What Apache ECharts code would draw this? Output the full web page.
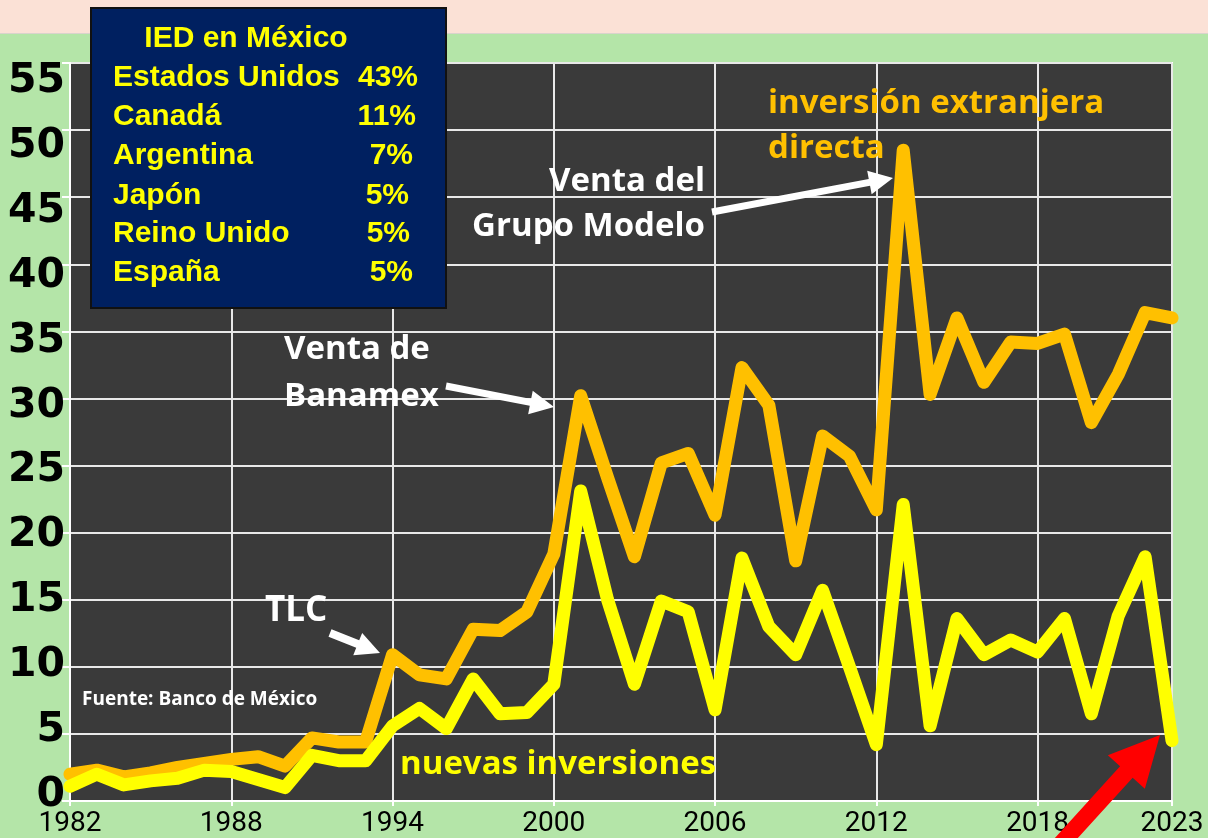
<!DOCTYPE html>
<html>
<head>
<meta charset="utf-8">
<script src="https://cdn.jsdelivr.net/npm/echarts@6/dist/echarts.min.js"></script>
<style>
html,body{margin:0;padding:0;background:#b4e5a8;}
#c{width:1208px;height:838px;}
</style>
</head>
<body>
<div id="c"></div>
<script>
// ---- data ----
var years = [];
for (var y = 1982; y <= 2023; y++) years.push(String(y));
var xTickLabels = ['1982','1988','1994','2000','2006','2012','2018','2023'];
var yTickLabels = [0,5,10,15,20,25,30,35,40,45,50,55];
var iedTotal = [2.0,2.3,1.8,2.1,2.5,2.8,3.1,3.3,2.6,4.7,
                4.4,4.4,10.9,9.4,9.1,12.8,12.7,14.1,18.4,30.2,
                24.1,18.2,25.2,25.9,21.3,32.3,29.5,17.9,27.2,25.7,
                21.7,48.5,30.3,36.0,31.2,34.2,34.1,34.8,28.2,31.8,
                36.4,36.0];
var nuevas = [1.1,2.0,1.2,1.5,1.7,2.3,2.2,1.6,1.0,3.4,
              3.0,3.0,5.6,6.9,5.4,9.1,6.5,6.6,8.7,23.1,
              15.0,8.7,14.9,14.1,6.8,18.1,13.0,10.9,15.7,10.0,
              4.2,22.1,5.6,13.6,10.9,12.0,11.1,13.6,6.5,13.8,
              18.2,4.5];
var boxTitle = 'IED en México';
var countries = ['Estados Unidos','Canadá','Argentina','Japón','Reino Unido','España'];
var shares = ['43%','11%','7%','5%','5%','5%'];

// ---- helpers ----
function arrow(x1, y1, x2, y2, sw, hl, hw, color) {
  var dx = x2 - x1, dy = y2 - y1, L = Math.sqrt(dx*dx + dy*dy);
  var ux = dx / L, uy = dy / L, px = -uy, py = ux;
  var bx = x2 - ux * hl, by = y2 - uy * hl;
  var pts = [
    [x1 + px*sw/2, y1 + py*sw/2],
    [bx + px*sw/2, by + py*sw/2],
    [bx + px*hw/2, by + py*hw/2],
    [x2, y2],
    [bx - px*hw/2, by - py*hw/2],
    [bx - px*sw/2, by - py*sw/2],
    [x1 - px*sw/2, y1 - py*sw/2]
  ];
  return {type: 'polygon', z: 50, shape: {points: pts}, style: {fill: color}};
}
function showIdx(i) {
  return xTickLabels.indexOf(years[i]) >= 0;
}

var chart = echarts.init(document.getElementById('c'), null, {renderer: 'canvas'});

var boxFont = 'bold 30px "Liberation Sans", Arial, sans-serif';
var graphics = [
  {type: 'rect', z: -10, shape: {x: 0, y: 0, width: 1208, height: 33}, style: {fill: '#fbe1d6'}},
  {type: 'rect', z: -10, shape: {x: 0, y: 33, width: 1208, height: 1}, style: {fill: '#d9d3cc'}},
  // info box
  {type: 'rect', z: 60, shape: {x: 91, y: 8, width: 355, height: 300},
   style: {fill: '#002060', stroke: '#111111', lineWidth: 2}},
  {type: 'text', z: 61, x: 246, y: 39,
   style: {text: boxTitle, fill: '#ffff00', font: boxFont, textAlign: 'center', textVerticalAlign: 'middle'}}
];
var rowY = [78, 117, 156, 196, 234, 273];
var pctRight = [418, 416, 413, 409, 410, 413];
for (var i = 0; i < countries.length; i++) {
  graphics.push({type: 'text', z: 61, x: 113, y: rowY[i],
    style: {text: countries[i], fill: '#ffff00', font: boxFont, textAlign: 'left', textVerticalAlign: 'middle'}});
  graphics.push({type: 'text', z: 61, x: pctRight[i], y: rowY[i],
    style: {text: shares[i], fill: '#ffff00', font: boxFont, textAlign: 'right', textVerticalAlign: 'middle'}});
}
var annFont = 'bold 33px "Open Sans", "Noto Sans", sans-serif';
graphics.push(
  {type: 'text', z: 40, x: 768, y: 104, style: {text: 'inversión extranjera', fill: '#ffc000', font: annFont, textAlign: 'left', textVerticalAlign: 'middle'}},
  {type: 'text', z: 40, x: 768, y: 149, style: {text: 'directa', fill: '#ffc000', font: annFont, textAlign: 'left', textVerticalAlign: 'middle'}},
  {type: 'text', z: 40, x: 705, y: 182, style: {text: 'Venta del', fill: '#ffffff', font: annFont, textAlign: 'right', textVerticalAlign: 'middle'}},
  {type: 'text', z: 40, x: 705, y: 227, style: {text: 'Grupo Modelo', fill: '#ffffff', font: annFont, textAlign: 'right', textVerticalAlign: 'middle'}},
  {type: 'text', z: 40, x: 284, y: 350, style: {text: 'Venta de', fill: '#ffffff', font: annFont, textAlign: 'left', textVerticalAlign: 'middle'}},
  {type: 'text', z: 40, x: 284, y: 397, style: {text: 'Banamex', fill: '#ffffff', font: annFont, textAlign: 'left', textVerticalAlign: 'middle'}},
  {type: 'text', z: 40, x: 265, y: 611, style: {text: 'TLC', fill: '#ffffff', font: 'bold 35px "Open Sans", "Noto Sans", sans-serif', textAlign: 'left', textVerticalAlign: 'middle'}},
  {type: 'text', z: 40, x: 400, y: 765, style: {text: 'nuevas inversiones', fill: '#ffff00', font: annFont, textAlign: 'left', textVerticalAlign: 'middle'}},
  {type: 'text', z: 40, x: 82, y: 700, style: {text: 'Fuente: Banco de México', fill: '#ffffff', font: 'bold 19px "Open Sans", "Noto Sans", sans-serif', textAlign: 'left', textVerticalAlign: 'middle'}},
  arrow(330, 633, 380, 653, 8, 24, 24, '#ffffff'),
  arrow(446, 386, 554, 407, 7, 24, 24, '#ffffff'),
  arrow(712, 212, 893, 178, 7, 24, 24, '#ffffff'),
  arrow(1050, 856, 1160, 735, 17, 50, 50, '#ff0000')
);

chart.setOption({
  backgroundColor: '#b4e5a8',
  animation: false,
  grid: {left: 70, right: 36, top: 63, bottom: 31, show: true,
         backgroundColor: '#3a3a3a', borderColor: '#ffffff', borderWidth: 2},
  xAxis: {
    type: 'category', data: years, boundaryGap: false,
    axisLine: {show: true, lineStyle: {color: '#ffffff', width: 2}},
    axisTick: {show: true, length: 5, interval: function (i) { return showIdx(i); }, lineStyle: {color: '#ffffff', width: 2}},
    splitLine: {show: true, interval: function (i) { return showIdx(i); }, lineStyle: {color: '#e8e8e8', width: 2}},
    axisLabel: {interval: function (i) { return showIdx(i); }, color: '#000000', fontSize: 28,
                fontFamily: 'Roboto, sans-serif', margin: 9}
  },
  yAxis: [{
    type: 'value', min: 0, max: 55, interval: 5,
    axisLine: {show: true, lineStyle: {color: '#ffffff', width: 2}},
    axisTick: {show: true, length: 8, lineStyle: {color: '#ffffff', width: 2}},
    splitLine: {show: true, lineStyle: {color: '#e8e8e8', width: 2}},
    axisLabel: {show: false}
  }, {
    type: 'value', position: 'left', min: -0.46, max: 56.45,
    axisLine: {show: false}, axisTick: {show: false}, splitLine: {show: false},
    axisLabel: {show: true, customValues: yTickLabels, color: '#000000', fontSize: 41, fontWeight: 'bold',
                fontFamily: '"DejaVu Sans", sans-serif', margin: 5}
  }],
  series: [
    {type: 'line', name: 'inversión extranjera directa', data: iedTotal, symbol: 'none', smooth: false, z: 3,
     yAxisIndex: 0, lineStyle: {color: '#ffc000', width: 13, cap: 'round', join: 'round'}},
    {type: 'line', name: 'nuevas inversiones', data: nuevas, symbol: 'none', smooth: false, z: 4,
     yAxisIndex: 0, lineStyle: {color: '#ffff00', width: 13, cap: 'round', join: 'round'}}
  ],
  graphic: graphics
});
</script>
</body>
</html>
